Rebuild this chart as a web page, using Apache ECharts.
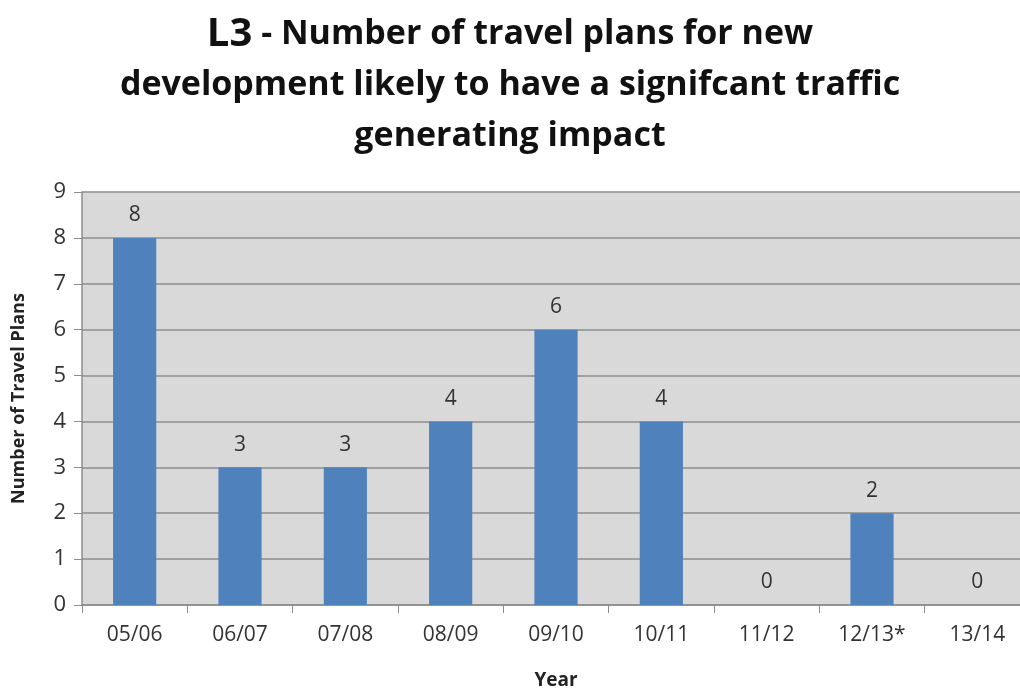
<!DOCTYPE html>
<html>
<head>
<meta charset="utf-8">
<script src="https://cdn.jsdelivr.net/npm/echarts@6/dist/echarts.min.js"></script>
<style>
  html, body { margin: 0; padding: 0; background: #fff; }
  #chart { width: 1020px; height: 689px; }
</style>
</head>
<body>
<div id="chart"></div>
<script>
// data
var years = ["05/06", "06/07", "07/08", "08/09", "09/10", "10/11", "11/12", "12/13*", "13/14"];
var travelPlans = [8, 3, 3, 4, 6, 4, 0, 2, 0];
var yTicks = [0, 1, 2, 3, 4, 5, 6, 7, 8, 9];

var myChart = echarts.init(document.getElementById("chart"));

var font = "'Open Sans', 'Noto Sans', sans-serif";

var option = {
  backgroundColor: "#ffffff",
  textStyle: { fontFamily: font },
  title: {
    left: "center",
    top: 4,
    text: "{a|L3} - Number of travel plans for new\ndevelopment likely to have a signifcant traffic\ngenerating impact",
    textStyle: {
      fontFamily: font,
      fontSize: 34,
      fontWeight: "bold",
      color: "#111",
      lineHeight: 51,
      rich: {
        a: { fontFamily: font, fontSize: 40, fontWeight: "bold", color: "#111", lineHeight: 51 }
      }
    }
  },
  grid: {
    left: 82,
    top: 192,
    width: 948,
    height: 413,
    containLabel: false,
    outerBoundsMode: "none"
  },
  xAxis: {
    type: "category",
    data: years,
    name: "Year",
    nameLocation: "middle",
    nameGap: 66,
    nameTextStyle: { fontSize: 19, fontWeight: "bold", color: "#222", fontFamily: font },
    axisLine: { lineStyle: { color: "#8c8c8c", width: 1.5 } },
    axisTick: { show: true, length: 8, lineStyle: { color: "#8c8c8c" } },
    axisLabel: { fontSize: 21, color: "#333", margin: 20, fontFamily: font }
  },
  yAxis: {
    type: "value",
    min: 0,
    max: 9,
    interval: 1,
    name: "Number of Travel Plans",
    nameLocation: "middle",
    nameGap: 54,
    nameTextStyle: { fontSize: 18, fontWeight: "bold", color: "#222", fontFamily: font },
    axisLine: { show: true, lineStyle: { color: "#8c8c8c", width: 1.5 } },
    axisTick: { show: true, length: 8, lineStyle: { color: "#8c8c8c" } },
    axisLabel: {
      fontSize: 22,
      color: "#333",
      margin: 16,
      fontFamily: font,
      formatter: function (v) {
        return yTicks.indexOf(v) >= 0 ? String(v) : "";
      }
    },
    splitLine: { show: true, lineStyle: { color: "#8c8c8c", width: 1.5 } },
    splitArea: { show: true, areaStyle: { color: ["#d9d9d9", "#d9d9d9"] } }
  },
  series: [
    {
      name: "Travel plans",
      type: "bar",
      data: travelPlans,
      barWidth: "41%",
      itemStyle: { color: "#4f81bd" },
      label: {
        show: true,
        position: "top",
        distance: 12,
        fontSize: 21,
        color: "#333",
        fontFamily: font
      }
    }
  ]
};

myChart.setOption(option);
</script>
</body>
</html>
